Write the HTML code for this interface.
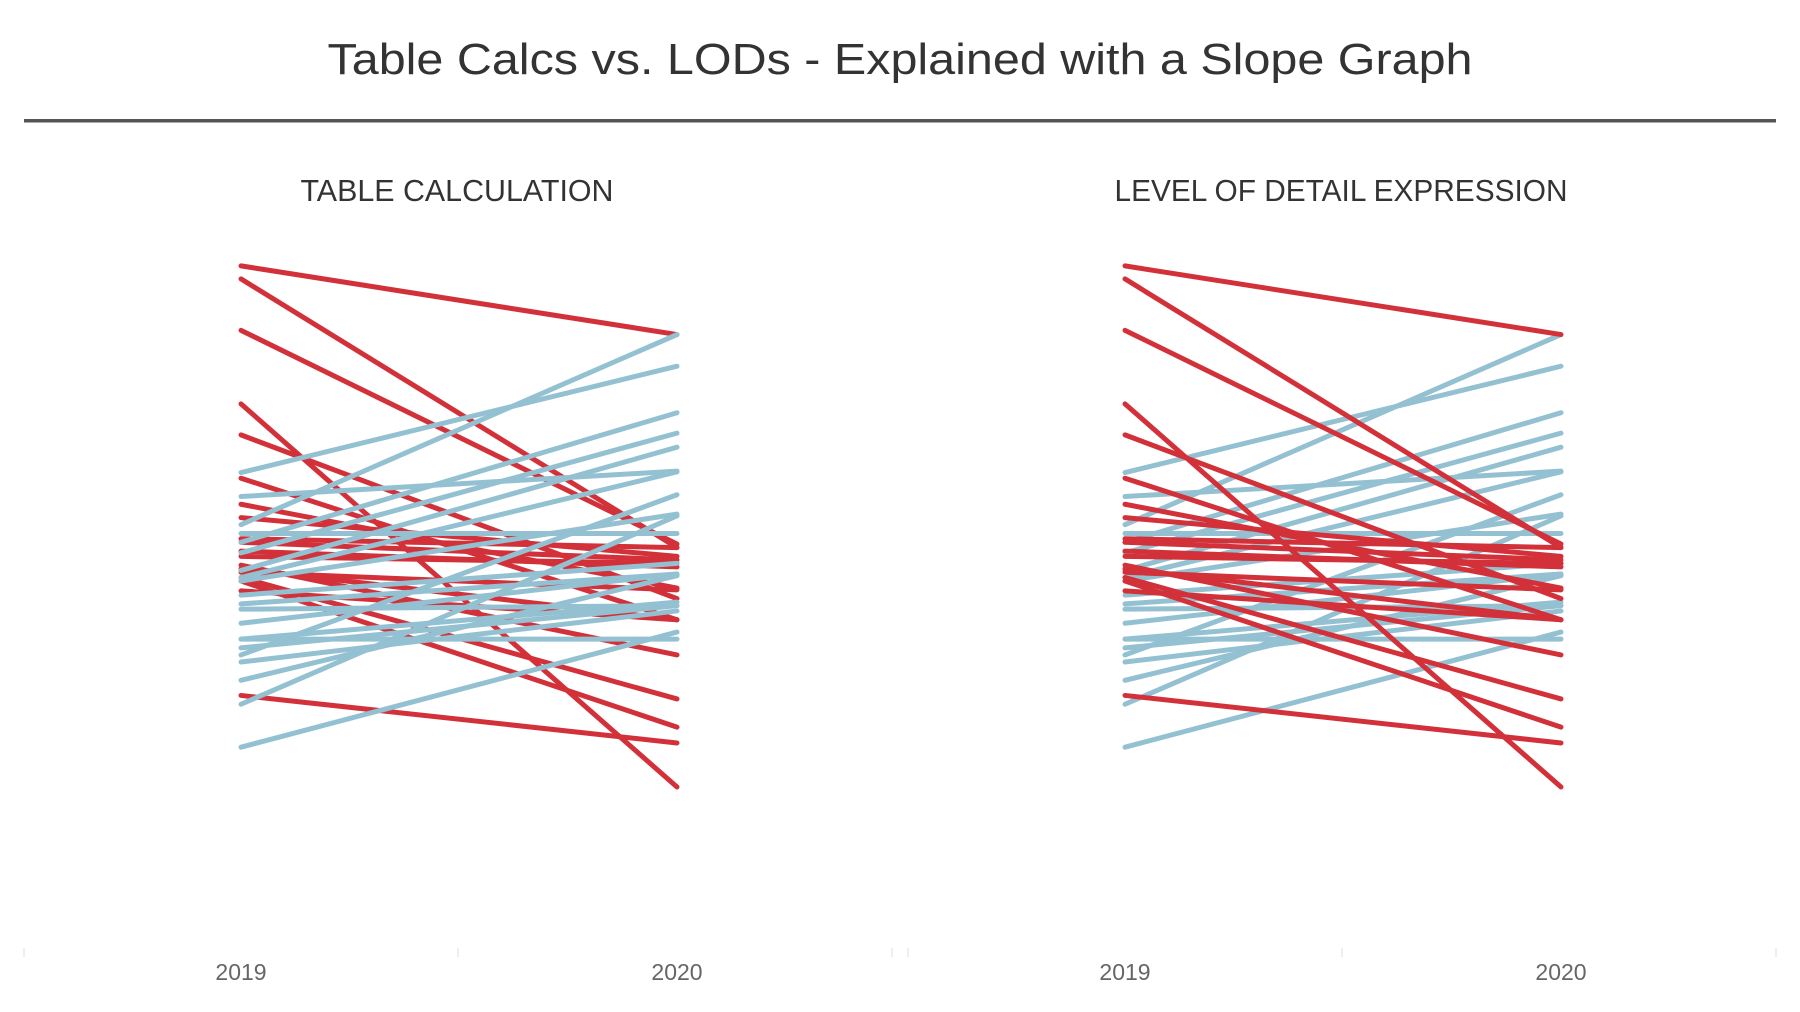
<!DOCTYPE html>
<html><head><meta charset="utf-8"><style>
html,body{margin:0;padding:0;background:#fff;}
svg{display:block;font-family:"Liberation Sans",sans-serif;}
</style></head><body>
<svg id="chart" width="1800" height="1012" viewBox="0 0 1800 1012">
<text x="900" y="74" text-anchor="middle" font-size="44" fill="#333" textLength="1145" lengthAdjust="spacingAndGlyphs">Table Calcs vs. LODs - Explained with a Slope Graph</text>
<rect x="24" y="119" width="1752" height="3.5" fill="#555"/>
<text x="457" y="201" text-anchor="middle" font-size="31" fill="#333" textLength="313" lengthAdjust="spacingAndGlyphs">TABLE CALCULATION</text>
<text x="1341" y="201" text-anchor="middle" font-size="31" fill="#333" textLength="453" lengthAdjust="spacingAndGlyphs">LEVEL OF DETAIL EXPRESSION</text>
<g id="left"></g>
<g id="right"></g>
</svg>
<script>
const years = ["2019", "2020"];
const red2019 = [155.5,151.8,137.2,116.3,107.5,95.2,87.8,84,78,77,74.5,73,70.5,69.5,68.5,67,66,63.2,33.5];
const red2020 = [136,75.5,76.5,7.5,61,55,64,73,75.5,72,70,71,45,55,63.5,32.5,24.5,55,20];
const blue2019 = [18.8,31,37.8,43,45,47,49.5,54,58,59.5,62,67,69,74,77,79.5,82,90,96.8,66,49.5];
const blue2020 = [51.5,84.5,67.5,57.5,90.5,59,49.5,68,59,68,71,97,104,108,113.8,79.5,136,97.2,127,85,60];

const NS = "http://www.w3.org/2000/svg";
const yScale = v => 813.4 - 3.521 * v;
const RED = "#d3313a", BLUE = "#94c1d2";

function drawPanel(g, x1, x2, left, right, prefix, redOnTop) {
  const xs = [x1, x2];
  [left, (left + right) / 2, right].forEach(tx => {
    const t = document.createElementNS(NS, "line");
    t.setAttribute("x1", tx); t.setAttribute("x2", tx);
    t.setAttribute("y1", 948); t.setAttribute("y2", 957);
    t.setAttribute("stroke", "#ddd"); t.setAttribute("stroke-width", 1);
    
    
    g.appendChild(t);
  });
  years.forEach((yr, i) => {
    const tx = document.createElementNS(NS, "text");
    tx.setAttribute("x", xs[i]); tx.setAttribute("y", 980);
    tx.setAttribute("text-anchor", "middle");
    tx.setAttribute("font-size", "23"); tx.setAttribute("fill", "#666");
    tx.textContent = yr;
    
    
    g.appendChild(tx);
  });
  const drawSet = (a, b, color, name) => {
    a.forEach((v, i) => {
      const l = document.createElementNS(NS, "line");
      l.setAttribute("x1", x1); l.setAttribute("y1", yScale(v));
      l.setAttribute("x2", x2); l.setAttribute("y2", yScale(b[i]));
      l.setAttribute("stroke", color); l.setAttribute("stroke-width", 5);
      l.setAttribute("stroke-linecap", "round");
      
      
      g.appendChild(l);
    });
  };
  if (redOnTop) {
    drawSet(blue2019, blue2020, BLUE, prefix + "-increase-line");
    drawSet(red2019, red2020, RED, prefix + "-decrease-line");
  } else {
    drawSet(red2019, red2020, RED, prefix + "-decrease-line");
    drawSet(blue2019, blue2020, BLUE, prefix + "-increase-line");
  }
}
drawPanel(document.getElementById("left"), 241, 677, 24, 892, "table-calc", false);
drawPanel(document.getElementById("right"), 1125, 1561, 908, 1776, "lod", true);
</script>
</body></html>
